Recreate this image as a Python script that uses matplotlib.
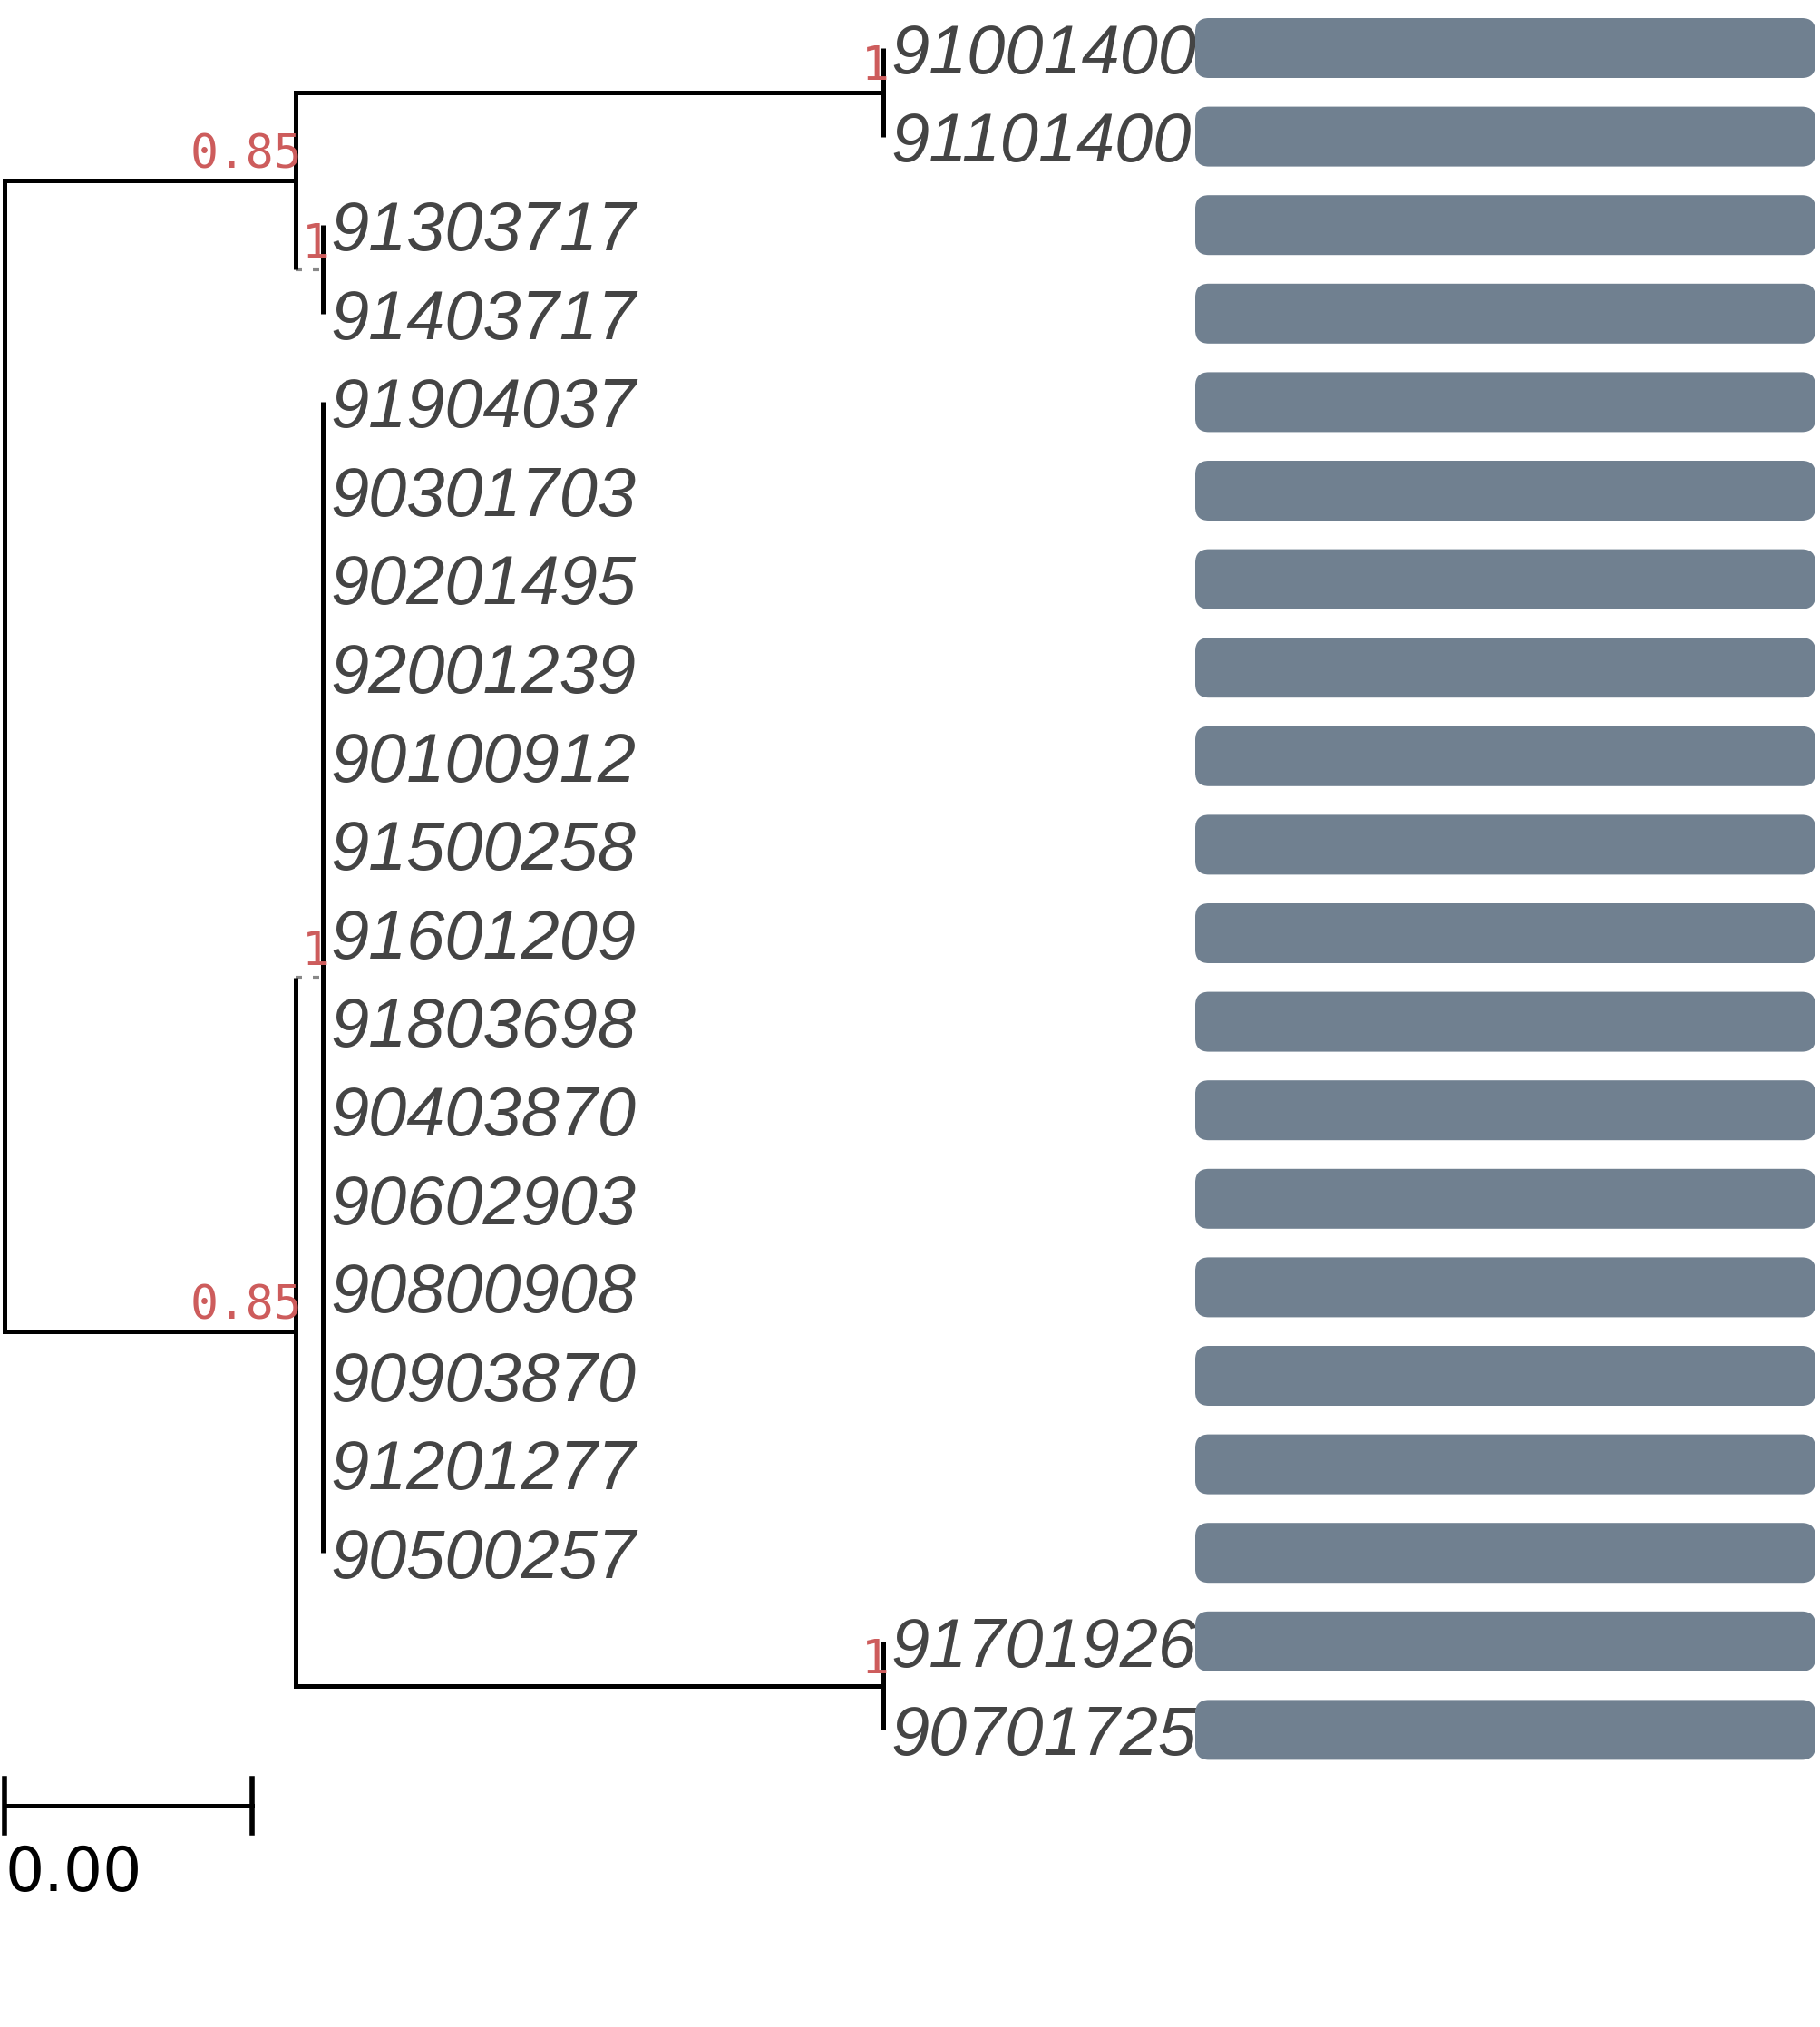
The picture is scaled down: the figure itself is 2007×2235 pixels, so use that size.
import matplotlib
matplotlib.use("Agg")
import matplotlib.pyplot as plt
from matplotlib.patches import FancyBboxPatch

# tips, top to bottom
tip_names = ["91001400", "91101400", "91303717", "91403717", "91904037",
             "90301703", "90201495", "92001239", "90100912", "91500258",
             "91601209", "91803698", "90403870", "90602903", "90800908",
             "90903870", "91201277", "90500257", "91701926", "90701725"]
tip_parent = ["C1", "C1", "C2", "C2", "C3", "C3", "C3", "C3", "C3", "C3",
              "C3", "C3", "C3", "C3", "C3", "C3", "C3", "C3", "C4", "C4"]
bar_values = [1.0, 1.0, 1.0, 1.0, 1.0, 1.0, 1.0, 1.0, 1.0, 1.0,
              1.0, 1.0, 1.0, 1.0, 1.0, 1.0, 1.0, 1.0, 1.0, 1.0]

# internal nodes
node_names = ["root", "A", "B", "C1", "C2", "C3", "C4"]
node_parent = [None, "root", "root", "A", "A", "B", "B"]
branch_len = [0.0, 0.0047, 0.0047, 0.0095, 0.00045, 0.00045, 0.0095]
support = [None, 0.85, 0.85, 1, 1, 1, 1]

scale_len = 0.004

W, H, DPI = 2007, 2235, 100
px_per_unit = 68250.0
px_per_row = 97.6
row0_px = 53.0
root_px = 5.0

# node depths
depth = {}
for n, p, bl in zip(node_names, node_parent, branch_len):
    depth[n] = bl if p is None else depth[p] + bl

children = {n: [] for n in node_names}
for n, p in zip(node_names, node_parent):
    if p is not None:
        children[p].append(n)
tips_of = {n: [i for i, tp in enumerate(tip_parent) if tp == n] for n in node_names}
ypos = {}


def node_y(n):
    if n in ypos:
        return ypos[n]
    ys = [float(i) for i in tips_of[n]] + [node_y(c) for c in children[n]]
    ypos[n] = (min(ys) + max(ys)) / 2.0
    return ypos[n]


for n in node_names:
    node_y(n)

fig = plt.figure(figsize=(W / DPI, H / DPI), dpi=DPI)
ax = fig.add_axes([0, 0, 1, 1])
ax.set_xlim(-root_px / px_per_unit, (W - root_px) / px_per_unit)
ax.set_ylim((H - row0_px) / px_per_row, -row0_px / px_per_row)
ax.axis("off")

lw = 3.6
# horizontal branches (very short ones drawn as grey dots)
for n, p, bl in zip(node_names, node_parent, branch_len):
    if p is None:
        continue
    if bl < 0.001:
        ax.plot([depth[p], depth[n]], [ypos[n], ypos[n]], color="#888888",
                lw=3.0, ls=(0, (1.68, 2.88)), solid_capstyle="butt",
                dash_capstyle="butt", zorder=1)
    else:
        ax.plot([depth[p], depth[n]], [ypos[n], ypos[n]], color="black",
                lw=lw, solid_capstyle="projecting", zorder=2)

# vertical lines
for n in node_names:
    ys = [float(i) for i in tips_of[n]] + [ypos[c] for c in children[n]]
    ax.plot([depth[n], depth[n]], [min(ys), max(ys)], color="black", lw=lw,
            solid_capstyle="butt", zorder=2)

# support values
for n, s in zip(node_names, support):
    if s is None:
        continue
    ax.annotate(f"{s:g}", (depth[n], ypos[n]), xytext=(5.0, 9.7),
                textcoords="offset points", ha="right", va="baseline",
                fontsize=37, color="#cd5c5c", family="DejaVu Sans Mono",
                zorder=3)

# tip labels
for i, (name, p) in enumerate(zip(tip_names, tip_parent)):
    ax.annotate(name, (depth[p], i), xytext=(6.0, -20.0),
                textcoords="offset points", ha="left", va="baseline",
                fontsize=54.5, color="#444444", style="italic",
                family="Liberation Sans")

# scale bar
sb_y = (1991 - row0_px) / px_per_row
tick = 30 / px_per_row
ax.plot([0, scale_len], [sb_y, sb_y], color="black", lw=lw)
ax.plot([0, 0], [sb_y - tick, sb_y + tick], color="black", lw=4.0)
ax.plot([scale_len, scale_len], [sb_y - tick, sb_y + tick], color="black", lw=4.0)
ax.text(0, (2085 - row0_px) / px_per_row, f"{scale_len:.2f}", ha="left",
        va="baseline", fontsize=49, color="black", family="DejaVu Sans")

# bar column
bx0, bx1 = 1318, 2002
axb = fig.add_axes([bx0 / W, 0, (bx1 - bx0) / W, 1])
axb.set_xlim(0, 1)
axb.set_ylim((H - row0_px) / px_per_row, -row0_px / px_per_row)
axb.axis("off")
bar_h = 66 / px_per_row
radius_px = 15
aspect = (1 / px_per_row) / (1 / (bx1 - bx0))
for i, v in enumerate(bar_values):
    axb.add_patch(FancyBboxPatch(
        (0, i - bar_h / 2), v, bar_h,
        boxstyle=f"round,pad=0,rounding_size={radius_px / (bx1 - bx0)}",
        mutation_aspect=aspect, facecolor="#708090", edgecolor="none"))

fig.savefig("out.png", dpi=DPI)
